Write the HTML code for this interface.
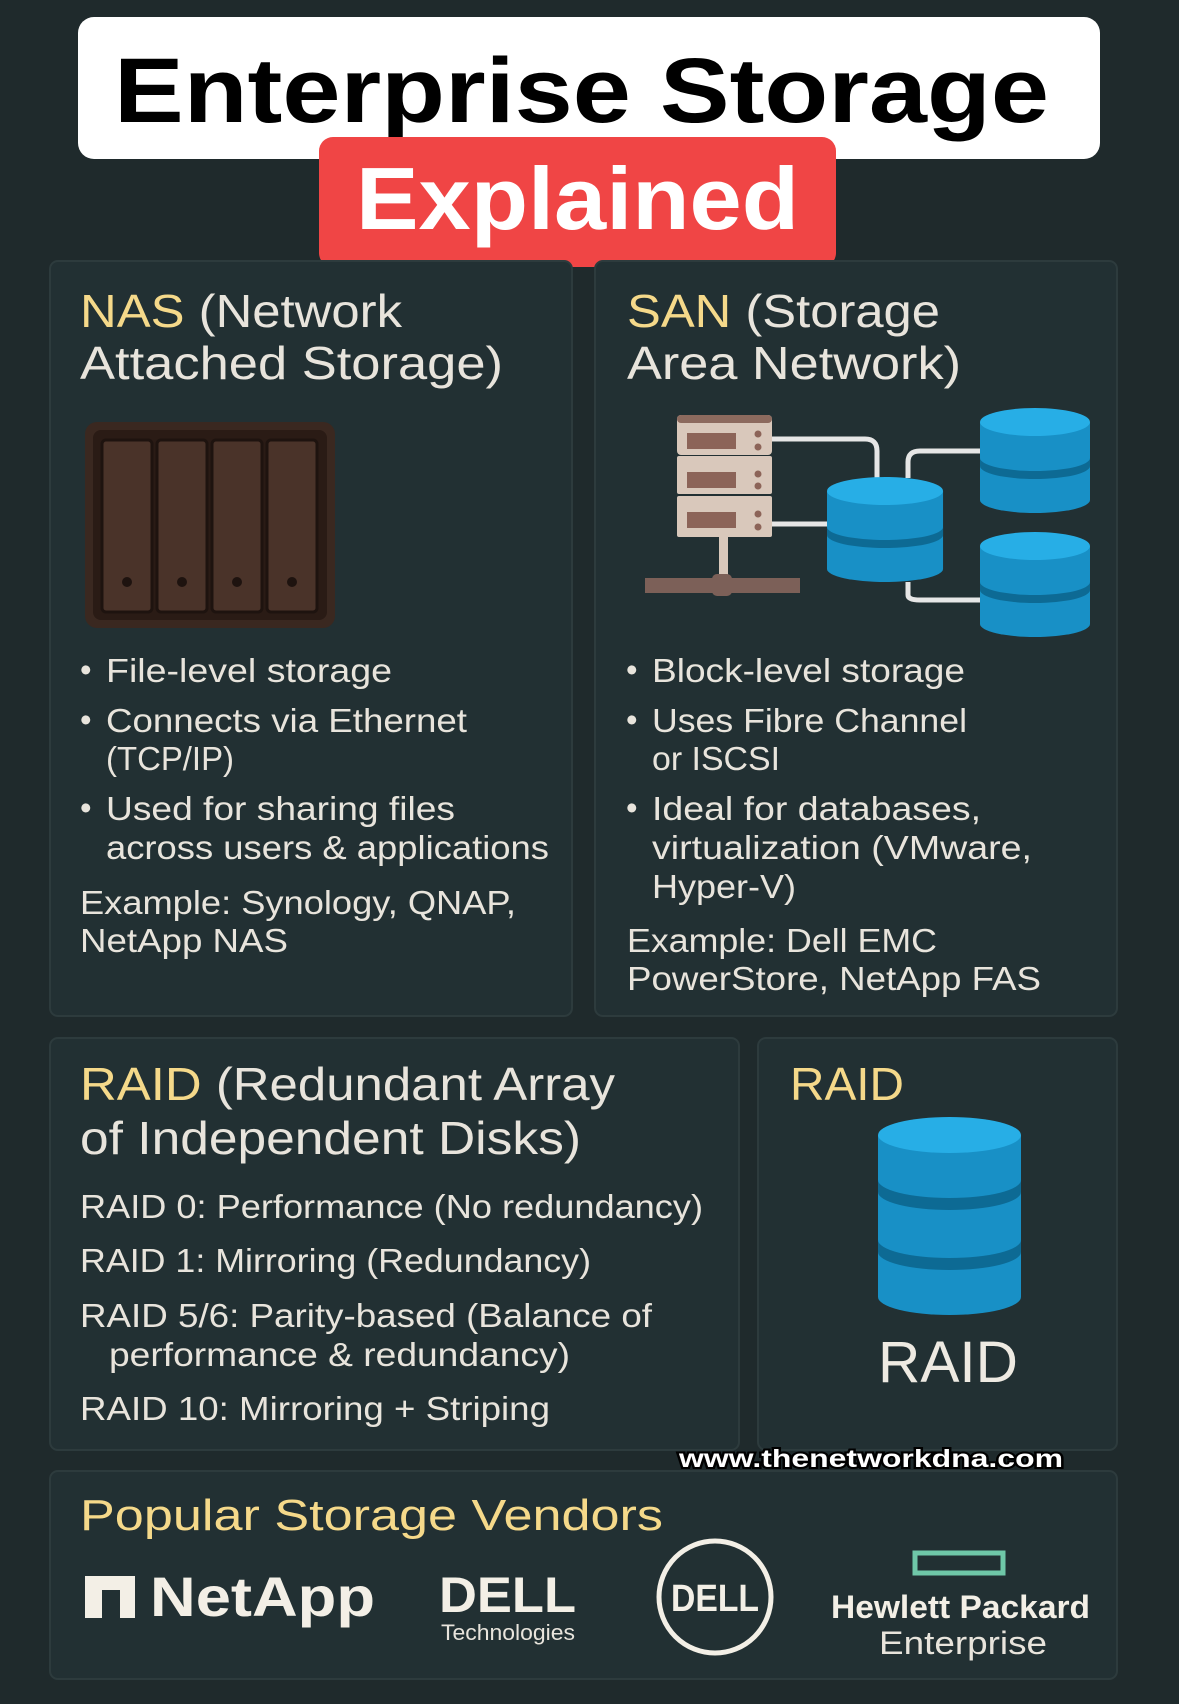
<!DOCTYPE html>
<html><head><meta charset="utf-8"><style>
html,body{margin:0;padding:0;background:#1f2a2c;}
svg{display:block}
text{font-family:"Liberation Sans",sans-serif;}
</style></head><body>
<svg width="1179" height="1704" viewBox="0 0 1179 1704" xmlns="http://www.w3.org/2000/svg">
<defs>
<g id="cyl">
<!-- unit cylinder width 110, height 105 origin top-left -->
<path d="M0,14 L0,92 A55,13 0 0 0 110,92 L110,14 Z" fill="#1890c6"/>
<path d="M0,50 A55,13 0 0 0 110,50 L110,58 A55,13 0 0 1 0,58 Z" fill="#0d6a94"/>
<ellipse cx="55" cy="14" rx="55" ry="14" fill="#27aee6"/>
</g>
</defs>
<rect width="1179" height="1704" fill="#1f2a2c"/>
<!-- Title -->
<rect x="78" y="17" width="1022" height="142" rx="16" fill="#ffffff"/>
<text x="114" y="122" font-size="92" font-weight="bold" fill="#000" textLength="935" lengthAdjust="spacingAndGlyphs">Enterprise Storage</text>
<rect x="319" y="137" width="517" height="130" rx="14" fill="#f04545"/>
<text x="356" y="229" font-size="88" font-weight="bold" fill="#fff" textLength="443" lengthAdjust="spacingAndGlyphs">Explained</text>

<!-- Panels -->
<g fill="#223033" stroke="#2d3b3d" stroke-width="2">
<rect x="50" y="261" width="522" height="755" rx="8"/>
<rect x="595" y="261" width="522" height="755" rx="8"/>
<rect x="50" y="1038" width="689" height="412" rx="8"/>
<rect x="758" y="1038" width="359" height="412" rx="8"/>
<rect x="50" y="1471" width="1067" height="208" rx="8"/>
</g>

<!-- NAS -->
<g font-size="46">
<text x="80" y="327" fill="#e8e4dc" textLength="322" lengthAdjust="spacingAndGlyphs"><tspan fill="#f5d98a">NAS</tspan> (Network</text>
<text x="80" y="379" fill="#e8e4dc" textLength="423" lengthAdjust="spacingAndGlyphs">Attached Storage)</text>
<text x="627" y="327" fill="#e8e4dc" textLength="313" lengthAdjust="spacingAndGlyphs"><tspan fill="#f5d98a">SAN</tspan> (Storage</text>
<text x="627" y="379" fill="#e8e4dc" textLength="334" lengthAdjust="spacingAndGlyphs">Area Network)</text>
</g>
<!-- NAS device -->
<rect x="85" y="422" width="250" height="206" rx="12" fill="#3a2820"/>
<rect x="93" y="430" width="234" height="190" rx="8" fill="#2a1b15"/>
<g fill="#4a3329" stroke="#1e130f" stroke-width="3">
<rect x="102" y="440" width="50" height="172" rx="4"/>
<rect x="157" y="440" width="50" height="172" rx="4"/>
<rect x="212" y="440" width="50" height="172" rx="4"/>
<rect x="267" y="440" width="50" height="172" rx="4"/>
</g>
<g fill="#1e130f"><circle cx="127" cy="582" r="5"/><circle cx="182" cy="582" r="5"/><circle cx="237" cy="582" r="5"/><circle cx="292" cy="582" r="5"/></g>

<!-- SAN illustration -->
<g fill="none" stroke="#e6e6e6" stroke-width="5">
<path d="M772,439 H865 Q877,439 877,451 V478"/>
<path d="M772,524 H830"/>
<path d="M908,478 V462 Q908,451 920,451 H982"/>
<path d="M908,582 V595 Q908,600 920,600 H982"/>
</g>
<rect x="719" y="537" width="9" height="45" fill="#d9c8bb"/>
<rect x="645" y="578" width="155" height="15" fill="#7c6058"/>
<rect x="712" y="574" width="20" height="22" rx="5" fill="#7c6058"/>
<g>
<rect x="677" y="415" width="95" height="40" rx="4" fill="#d9c8bb"/>
<rect x="677" y="415" width="95" height="8" rx="4" fill="#8c6a5e"/>
<rect x="677" y="456" width="95" height="38" rx="2" fill="#d9c8bb"/>
<rect x="677" y="496" width="95" height="41" rx="2" fill="#d9c8bb"/>
<g fill="#8c6458"><rect x="687" y="433" width="49" height="16"/><rect x="687" y="472" width="49" height="16"/><rect x="687" y="512" width="49" height="16"/>
<circle cx="758" cy="434" r="3.5"/><circle cx="758" cy="447" r="3.5"/><circle cx="758" cy="474" r="3.5"/><circle cx="758" cy="486" r="3.5"/><circle cx="758" cy="514" r="3.5"/><circle cx="758" cy="527" r="3.5"/></g>
</g>
<use href="#cyl" transform="translate(827,477) scale(1.055,1)"/>
<use href="#cyl" transform="translate(980,408)"/>
<use href="#cyl" transform="translate(980,532)"/>

<!-- NAS bullets -->
<g font-size="33" fill="#e8e4dc">
<text x="80" y="681">•</text><text x="106" y="682" textLength="286" lengthAdjust="spacingAndGlyphs">File-level storage</text>
<text x="80" y="731">•</text><text x="106" y="732" textLength="361" lengthAdjust="spacingAndGlyphs">Connects via Ethernet</text>
<text x="106" y="770" textLength="128" lengthAdjust="spacingAndGlyphs">(TCP/IP)</text>
<text x="80" y="819">•</text><text x="106" y="820" textLength="349" lengthAdjust="spacingAndGlyphs">Used for sharing files</text>
<text x="106" y="859" textLength="443" lengthAdjust="spacingAndGlyphs">across users &amp; applications</text>
<text x="80" y="914" textLength="436" lengthAdjust="spacingAndGlyphs">Example: Synology, QNAP,</text>
<text x="80" y="952" textLength="208" lengthAdjust="spacingAndGlyphs">NetApp NAS</text>
<!-- SAN bullets -->
<text x="626" y="681">•</text><text x="652" y="682" textLength="313" lengthAdjust="spacingAndGlyphs">Block-level storage</text>
<text x="626" y="731">•</text><text x="652" y="732" textLength="315" lengthAdjust="spacingAndGlyphs">Uses Fibre Channel</text>
<text x="652" y="770" textLength="128" lengthAdjust="spacingAndGlyphs">or ISCSI</text>
<text x="626" y="819">•</text><text x="652" y="820" textLength="329" lengthAdjust="spacingAndGlyphs">Ideal for databases,</text>
<text x="652" y="859" textLength="380" lengthAdjust="spacingAndGlyphs">virtualization (VMware,</text>
<text x="652" y="898" textLength="144" lengthAdjust="spacingAndGlyphs">Hyper-V)</text>
<text x="627" y="952" textLength="310" lengthAdjust="spacingAndGlyphs">Example: Dell EMC</text>
<text x="627" y="990" textLength="414" lengthAdjust="spacingAndGlyphs">PowerStore, NetApp FAS</text>
</g>

<!-- RAID -->
<g font-size="46" fill="#e8e4dc">
<text x="80" y="1100" textLength="535" lengthAdjust="spacingAndGlyphs"><tspan fill="#f5d98a">RAID</tspan> (Redundant Array</text>
<text x="80" y="1154" textLength="501" lengthAdjust="spacingAndGlyphs">of Independent Disks)</text>
<text x="790" y="1100" fill="#f5d98a" textLength="114" lengthAdjust="spacingAndGlyphs">RAID</text>
</g>
<g font-size="33" fill="#e8e4dc">
<text x="80" y="1218" textLength="623" lengthAdjust="spacingAndGlyphs">RAID 0: Performance (No redundancy)</text>
<text x="80" y="1272" textLength="511" lengthAdjust="spacingAndGlyphs">RAID 1: Mirroring (Redundancy)</text>
<text x="80" y="1327" textLength="572" lengthAdjust="spacingAndGlyphs">RAID 5/6: Parity-based (Balance of</text>
<text x="109" y="1366" textLength="461" lengthAdjust="spacingAndGlyphs">performance &amp; redundancy)</text>
<text x="80" y="1420" textLength="470" lengthAdjust="spacingAndGlyphs">RAID 10: Mirroring + Striping</text>
</g>
<!-- RAID cylinder -->
<g>
<path d="M878,1135 L878,1297 A71.5,18 0 0 0 1021,1297 L1021,1135 Z" fill="#1890c6"/>
<path d="M878,1180 A71.5,18 0 0 0 1021,1180 L1021,1192 A71.5,18 0 0 1 878,1192 Z" fill="#0d6a94"/>
<path d="M878,1240 A71.5,18 0 0 0 1021,1240 L1021,1252 A71.5,18 0 0 1 878,1252 Z" fill="#0d6a94"/>
<ellipse cx="949.5" cy="1135" rx="71.5" ry="18" fill="#27aee6"/>
</g>
<text x="878" y="1382" font-size="58" fill="#eeeae2" textLength="140" lengthAdjust="spacingAndGlyphs">RAID</text>

<!-- www -->
<text x="679" y="1467" font-size="25" font-weight="bold" fill="#fff" stroke="#000" stroke-width="4" paint-order="stroke" textLength="384" lengthAdjust="spacingAndGlyphs">www.thenetworkdna.com</text>

<!-- Vendors -->
<text x="80" y="1530" font-size="44" fill="#f5d98a" textLength="583" lengthAdjust="spacingAndGlyphs">Popular Storage Vendors</text>
<path d="M85,1576 H135 V1618 H120 V1590 H102 V1618 H85 Z" fill="#f3efe6"/>
<text x="150" y="1616" font-size="56" font-weight="bold" fill="#f3efe6" textLength="225" lengthAdjust="spacingAndGlyphs">NetApp</text>
<text x="439" y="1612" font-size="50" font-weight="bold" fill="#f3efe6" textLength="137" lengthAdjust="spacingAndGlyphs">DELL</text>
<text x="441" y="1640" font-size="22" fill="#e8e4dc" textLength="134" lengthAdjust="spacingAndGlyphs">Technologies</text>
<circle cx="715" cy="1597" r="56" fill="none" stroke="#f3efe6" stroke-width="5"/>
<text x="671" y="1611" font-size="38" font-weight="bold" fill="#f3efe6" textLength="88" lengthAdjust="spacingAndGlyphs">DELL</text>
<rect x="915" y="1553" width="88" height="20" fill="none" stroke="#6fc7a8" stroke-width="5"/>
<text x="831" y="1618" font-size="32" font-weight="bold" fill="#f3efe6" textLength="259" lengthAdjust="spacingAndGlyphs">Hewlett Packard</text>
<text x="879" y="1654" font-size="32" fill="#e8e4dc" textLength="168" lengthAdjust="spacingAndGlyphs">Enterprise</text>
</svg>
</body></html>
